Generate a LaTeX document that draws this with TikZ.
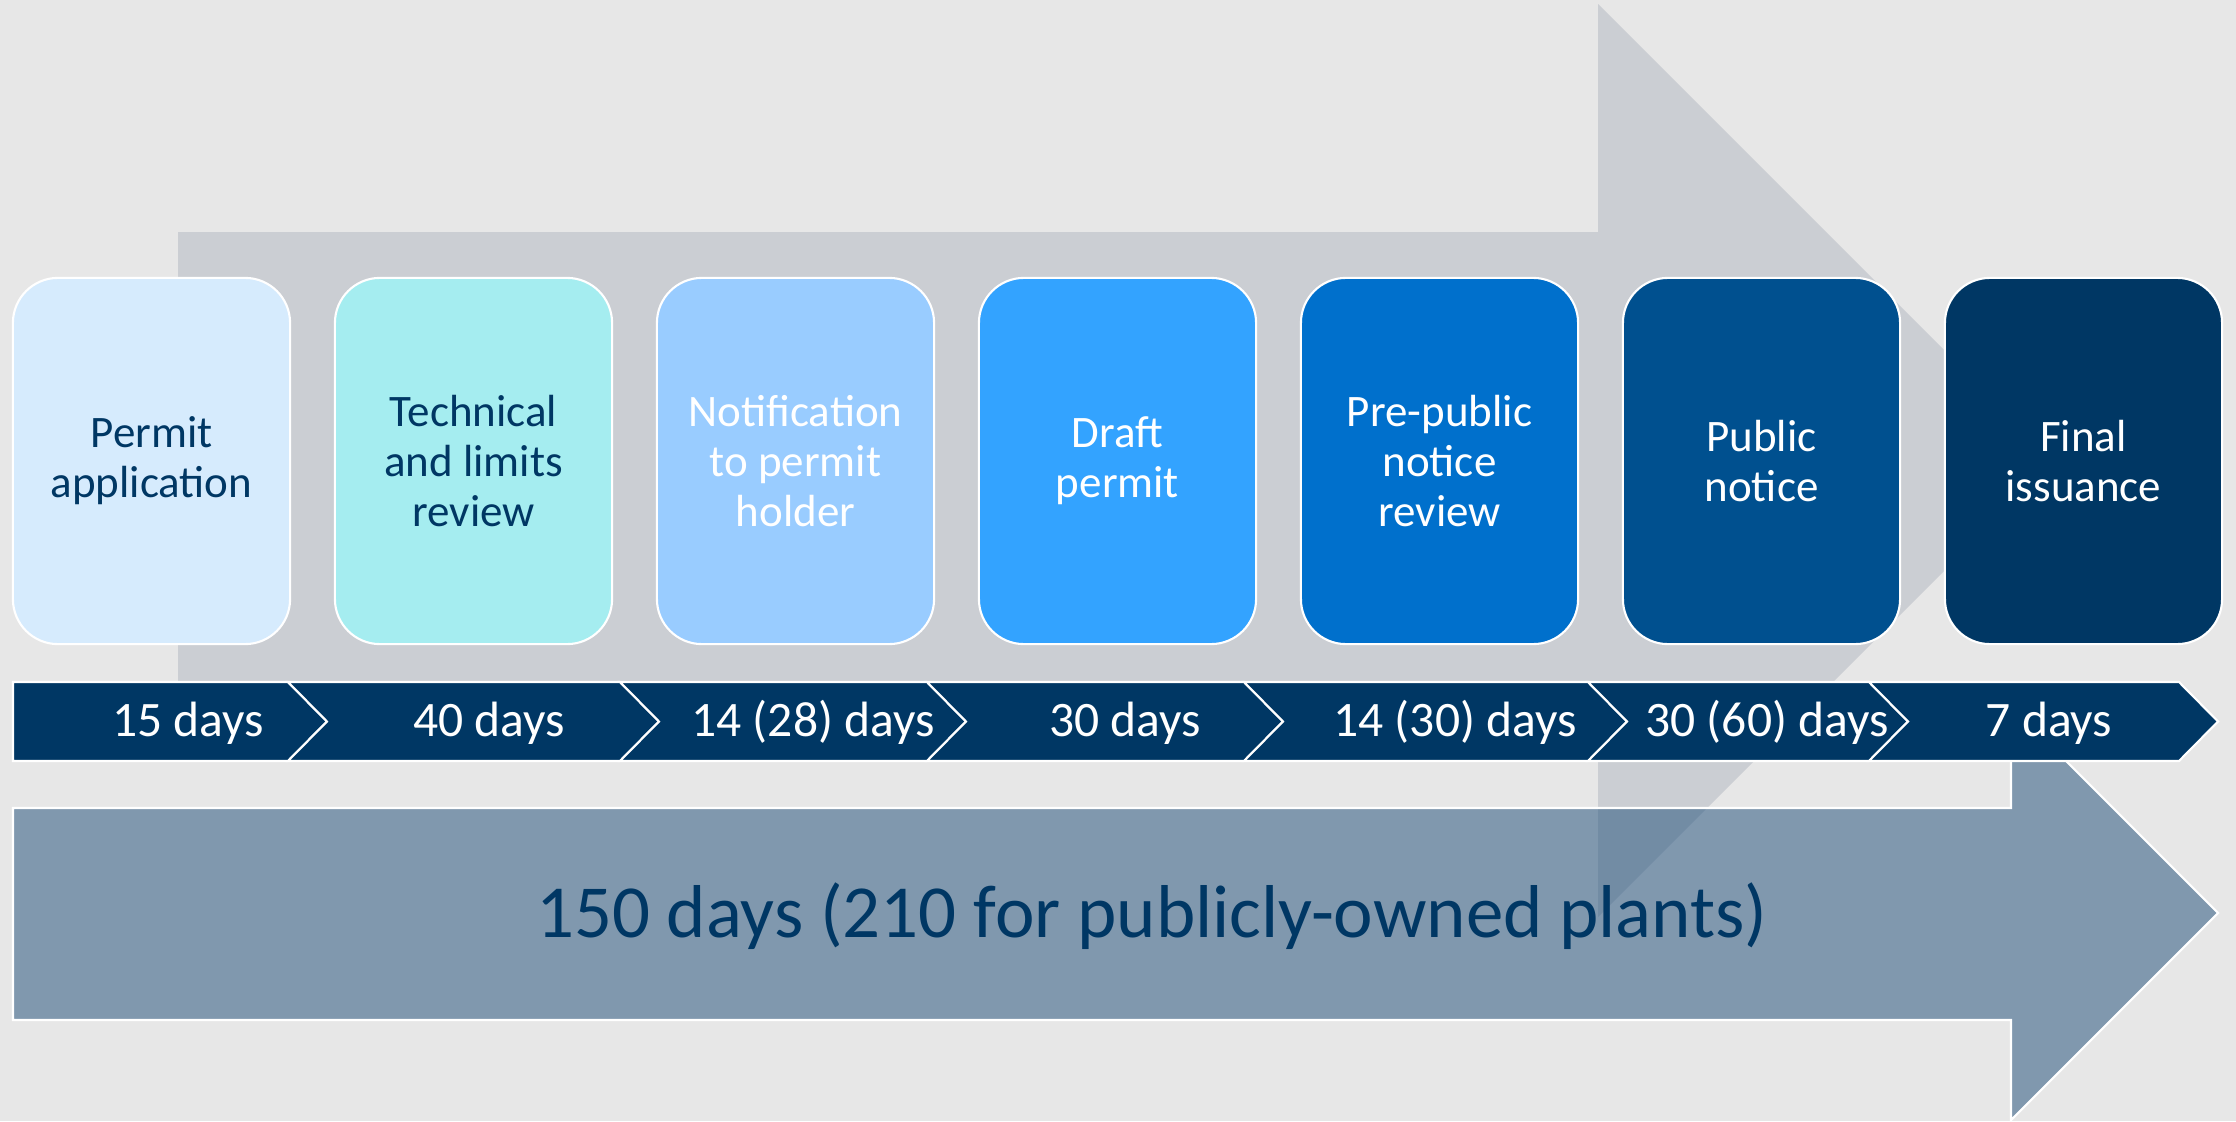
\documentclass[tikz,border=0pt]{standalone}
\usepackage{fontspec}
\setmainfont{Carlito}
\definecolor{bgcol}{HTML}{E7E7E7}
\definecolor{grayarrow}{HTML}{CBCED3}
\definecolor{navy}{HTML}{003764}
\definecolor{shade}{HTML}{1F4E79}
\definecolor{boxa}{HTML}{D6EBFD}
\definecolor{boxb}{HTML}{A5EDF0}
\definecolor{boxc}{HTML}{99CCFF}
\definecolor{boxd}{HTML}{33A3FF}
\definecolor{boxe}{HTML}{0070CC}
\definecolor{boxf}{HTML}{00508F}
\definecolor{boxg}{HTML}{003764}
\begin{document}
\begin{tikzpicture}[x=0.01cm, y=-0.01cm,
    stage/.style={draw=white, line width=0.6pt, rounded corners=0.45cm, minimum width=2.77cm, minimum height=3.66cm, align=center, font=\fontsize{12.8}{14.2}\selectfont},
    dayseg/.style={fill=navy, draw=white, line width=0.6pt},
    daylabel/.style={anchor=base, text=white, font=\fontsize{14.1}{16}\selectfont}]
    \useasboundingbox (0,0) rectangle (2236,1121);
    \fill[bgcol] (0,0) rectangle (2236,1121);
    \fill[grayarrow] (178,232) -- (1598,232) -- (1598,4) -- (2054.5,460.5) -- (1598,917) -- (1598,689) -- (178,689) -- cycle;
    \filldraw[fill=shade, fill opacity=0.515, draw=white, line width=0.6pt] (13,808) -- (2011,808) -- (2011,706) -- (2218,913) -- (2011,1120) -- (2011,1020) -- (13,1020) -- cycle;
    \node[anchor=base, text=navy, font=\fontsize{21.3}{25}\selectfont] (total) at (1152,937) {150 days (210 for publicly-owned plants)};
    \draw[dayseg] (13,682) -- (288,682) -- (327,721.5) -- (288,761) -- (13,761) -- cycle;
    \draw[dayseg] (288,682) -- (620,682) -- (659,721.5) -- (620,761) -- (288,761) -- (327,721.5) -- cycle;
    \draw[dayseg] (620,682) -- (927,682) -- (966,721.5) -- (927,761) -- (620,761) -- (659,721.5) -- cycle;
    \draw[dayseg] (927,682) -- (1244,682) -- (1283,721.5) -- (1244,761) -- (927,761) -- (966,721.5) -- cycle;
    \draw[dayseg] (1244,682) -- (1588,682) -- (1627,721.5) -- (1588,761) -- (1244,761) -- (1283,721.5) -- cycle;
    \draw[dayseg] (1588,682) -- (1869,682) -- (1908,721.5) -- (1869,761) -- (1588,761) -- (1627,721.5) -- cycle;
    \draw[dayseg] (1869,682) -- (2179,682) -- (2218,721.5) -- (2179,761) -- (1869,761) -- (1908,721.5) -- cycle;
    \node[daylabel] (d1) at (188,736) {15 days};
    \node[daylabel] (d2) at (489,736) {40 days};
    \node[daylabel] (d3) at (813,736) {14 (28) days};
    \node[daylabel] (d4) at (1125,736) {30 days};
    \node[daylabel] (d5) at (1455,736) {14 (30) days};
    \node[daylabel] (d6) at (1767,736) {30 (60) days};
    \node[daylabel] (d7) at (2049,736) {7 days};
    \node[stage, fill=boxa, text=navy] (permit) at (151.5,461) {Permit\\application};
    \node[stage, fill=boxb, text=navy] (review) at (473.5,461) {Technical\\and limits\\review};
    \node[stage, fill=boxc, text=white] (notify) at (795.5,461) {Notification\\to permit\\holder};
    \node[stage, fill=boxd, text=white] (draft) at (1117.5,461) {Draft\\permit};
    \node[stage, fill=boxe, text=white] (prepub) at (1439.5,461) {Pre-public\\notice\\review};
    \node[stage, fill=boxf, text=white] (public) at (1761.5,461) {Public\\notice};
    \node[stage, fill=boxg, text=white] (final) at (2083.5,461) {Final\\issuance};
\end{tikzpicture}
\end{document}
